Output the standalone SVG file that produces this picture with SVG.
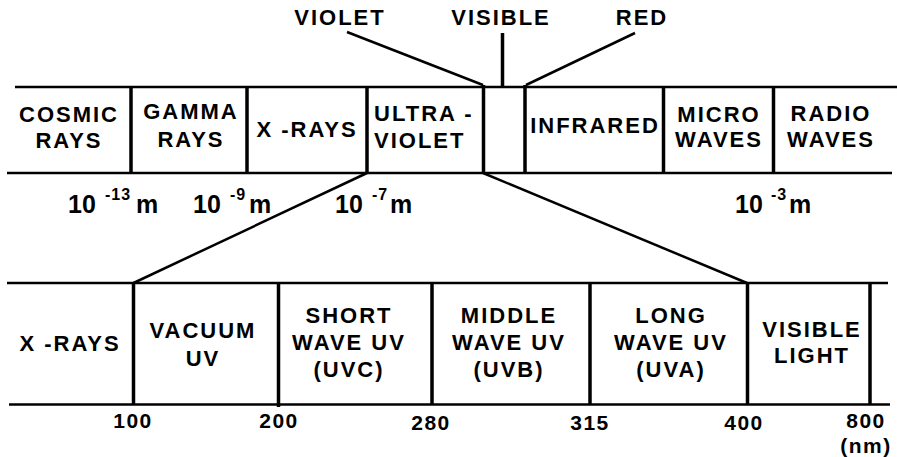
<svg xmlns="http://www.w3.org/2000/svg" width="897" height="457" viewBox="0 0 897 457">
<style>
.ln{stroke:#000;stroke-width:2.5;fill:none;stroke-linecap:butt}
.dv{stroke:#000;stroke-width:3.5;fill:none}
.t{font-family:"Liberation Sans",Arial,sans-serif;font-weight:bold;font-size:22px;letter-spacing:2px;fill:#000;text-anchor:middle}
.n{font-family:"Liberation Sans",Arial,sans-serif;font-weight:bold;font-size:21px;letter-spacing:1.5px;fill:#000;text-anchor:middle}
.e{font-family:"Liberation Sans",Arial,sans-serif;font-weight:bold;font-size:25px;fill:#000}
.s{font-size:16px;letter-spacing:1px}
</style>
<rect width="897" height="457" fill="#fff"/>
<g id="connectors">
<line class="ln" x1="15" y1="87" x2="897" y2="87"/>
<line class="ln" x1="7" y1="173" x2="892" y2="173"/>
<line class="ln" x1="7" y1="283" x2="888" y2="283"/>
<line class="ln" x1="9" y1="404.5" x2="890" y2="404.5"/>
<line class="ln" x1="347" y1="32" x2="483" y2="85"/>
<line class="dv" x1="502.5" y1="33" x2="502.5" y2="87"/>
<line class="ln" x1="635" y1="33" x2="526" y2="85"/>
<line class="ln" x1="367" y1="173" x2="133.5" y2="283"/>
<line class="ln" x1="483" y1="173" x2="747" y2="283"/>
</g>
<g id="top-dividers">
<line class="dv" x1="131" y1="87" x2="131" y2="173"/>
<line class="dv" x1="247" y1="87" x2="247" y2="173"/>
<line class="dv" x1="367" y1="87" x2="367" y2="173"/>
<line class="dv" x1="483.5" y1="85" x2="483.5" y2="173"/>
<line class="dv" x1="525" y1="85" x2="525" y2="173"/>
<line class="dv" x1="663.5" y1="87" x2="663.5" y2="173"/>
<line class="dv" x1="773.5" y1="87" x2="773.5" y2="173"/>
</g>
<g id="bottom-dividers">
<line class="dv" x1="133.5" y1="283" x2="133.5" y2="405"/>
<line class="dv" x1="278.5" y1="283" x2="278.5" y2="407"/>
<line class="dv" x1="432" y1="283" x2="432" y2="405"/>
<line class="dv" x1="590" y1="283" x2="590" y2="405"/>
<line class="dv" x1="747.5" y1="283" x2="747.5" y2="405"/>
<line class="dv" x1="870" y1="283" x2="870" y2="405"/>
</g>
<g id="label-violet"><text class="t" x="340" y="25">VIOLET</text></g>
<g id="label-visible"><text class="t" x="501" y="25">VISIBLE</text></g>
<g id="label-red"><text class="t" x="642" y="25">RED</text></g>
<g id="node-cosmic"><text class="t" x="69" y="122">COSMIC</text><text class="t" x="69" y="148">RAYS</text></g>
<g id="node-gamma"><text class="t" x="191" y="119">GAMMA</text><text class="t" x="191" y="147">RAYS</text></g>
<g id="node-xrays"><text class="t" x="307" y="137">X -RAYS</text></g>
<g id="node-ultraviolet"><text class="t" x="374" y="121" style="text-anchor:start">ULTRA -</text><text class="t" x="374" y="148" style="text-anchor:start">VIOLET</text></g>
<g id="node-visible"></g>
<g id="node-infrared"><text class="t" x="595" y="133">INFRARED</text></g>
<g id="node-micro"><text class="t" x="719" y="122">MICRO</text><text class="t" x="719" y="147">WAVES</text></g>
<g id="node-radio"><text class="t" x="831" y="121">RADIO</text><text class="t" x="831" y="147">WAVES</text></g>
<g id="scale-top">
<text class="e" x="68" y="213">10<tspan class="s" x="105" y="200">-13</tspan><tspan x="136" y="213">m</tspan></text>
<text class="e" x="193" y="213">10<tspan class="s" x="230" y="200">-9</tspan><tspan x="249" y="213">m</tspan></text>
<text class="e" x="335" y="213">10<tspan class="s" x="372" y="200">-7</tspan><tspan x="390" y="213">m</tspan></text>
<text class="e" x="735" y="213">10<tspan class="s" x="771" y="200">-3</tspan><tspan x="789" y="213">m</tspan></text>
</g>
<g id="node-b-xrays"><text class="t" x="70" y="351">X -RAYS</text></g>
<g id="node-vacuum"><text class="t" x="203" y="338">VACUUM</text><text class="t" x="203" y="366">UV</text></g>
<g id="node-uvc"><text class="t" x="349" y="323">SHORT</text><text class="t" x="349" y="350">WAVE UV</text><text class="t" x="349" y="377">(UVC)</text></g>
<g id="node-uvb"><text class="t" x="509" y="323">MIDDLE</text><text class="t" x="509" y="350">WAVE UV</text><text class="t" x="509" y="377">(UVB)</text></g>
<g id="node-uva"><text class="t" x="671" y="323">LONG</text><text class="t" x="671" y="350">WAVE UV</text><text class="t" x="671" y="377">(UVA)</text></g>
<g id="node-visible-light"><text class="t" x="812" y="337">VISIBLE</text><text class="t" x="812" y="363">LIGHT</text></g>
<g id="scale-bottom">
<text class="n" x="133" y="428">100</text>
<text class="n" x="279" y="428">200</text>
<text class="n" x="431" y="430">280</text>
<text class="n" x="590" y="430">315</text>
<text class="n" x="744" y="430">400</text>
<text class="n" x="866" y="428">800</text>
<text class="n" x="866" y="453">(nm)</text>
</g>
</svg>
